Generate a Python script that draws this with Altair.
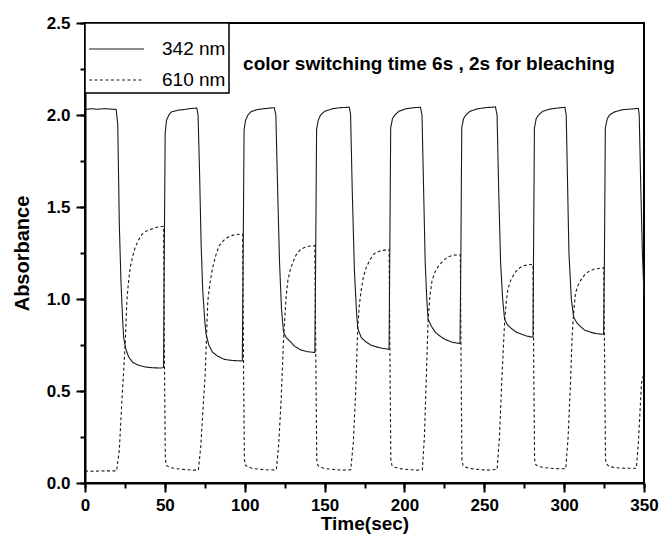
import altair as alt
import pandas as pd

# ---- data ----
series_names = ["342 nm", "610 nm"]

t342 = [0, 4, 8, 12, 16, 19.5,
        20.5, 21.5, 22.5, 23.5, 24.2, 25.5, 27.3, 30, 33.5, 38, 43, 47.9, 49.2,
        49.6, 50.2, 51, 52.5, 54, 58, 62.4, 66, 70,
        70.8, 71.7, 72.7, 73.7, 75, 75.8, 77.5, 79.9, 83, 87.2, 92, 98.5,
        99, 99.6, 100.5, 102, 104, 108, 113, 118.5,
        119.5, 120.6, 121.8, 123, 124.3, 126, 128.4, 131, 134.6, 139, 143.9,
        144.4, 145, 146, 147.5, 150, 155, 160, 165.5,
        166.3, 167.3, 168.7, 170, 170.8, 173, 176, 179, 182.2, 186, 190.4,
        190.8, 191.4, 192.5, 194, 196.5, 201, 206, 210,
        211, 212, 213, 214, 214.8, 217, 219.3, 222, 225.5, 230, 234.8,
        235.3, 235.9, 237, 238.5, 241, 246, 251, 257,
        258, 259, 260.2, 261.5, 262.7, 264.5, 266.9, 270, 273, 276, 279.6, 280.5,
        280.8, 281.4, 282.5, 284, 286.5, 291, 296, 300.5,
        301.3, 302.2, 303, 304.5, 306, 308, 310.2, 313, 316.4, 320, 324.7,
        325.2, 325.8, 327, 328.5, 331, 336, 341, 346.5,
        347, 348, 349, 350]
a342 = [2.030, 2.034, 2.031, 2.035, 2.032, 2.030,
        1.95, 1.40, 1.10, 0.90, 0.79, 0.73, 0.685, 0.655, 0.640, 0.630, 0.626, 0.625, 0.628,
        1.20, 1.90, 1.97, 2.000, 2.016, 2.026, 2.030, 2.035, 2.038,
        2.00, 1.70, 1.30, 1.05, 0.88, 0.81, 0.75, 0.71, 0.69, 0.672, 0.666, 0.663,
        1.20, 1.92, 1.97, 2.000, 2.018, 2.030, 2.035, 2.040,
        2.00, 1.60, 1.20, 0.95, 0.82, 0.79, 0.77, 0.745, 0.725, 0.714, 0.709,
        1.20, 1.92, 1.97, 2.000, 2.020, 2.034, 2.040, 2.042,
        2.00, 1.60, 1.15, 0.93, 0.84, 0.79, 0.766, 0.750, 0.740, 0.732, 0.727,
        1.20, 1.93, 1.98, 2.000, 2.020, 2.034, 2.040, 2.042,
        2.00, 1.60, 1.20, 1.00, 0.89, 0.85, 0.82, 0.80, 0.78, 0.765, 0.758,
        1.20, 1.93, 1.98, 2.000, 2.020, 2.034, 2.040, 2.044,
        2.00, 1.60, 1.20, 1.00, 0.89, 0.86, 0.84, 0.82, 0.81, 0.80, 0.793, 0.794,
        1.20, 1.93, 1.98, 2.000, 2.020, 2.032, 2.038, 2.042,
        2.00, 1.60, 1.25, 1.00, 0.90, 0.87, 0.85, 0.83, 0.82, 0.812, 0.808,
        1.20, 1.93, 1.98, 2.000, 2.015, 2.028, 2.032, 2.036,
        2.00, 1.60, 1.25, 1.02]

t610 = [0, 6, 12, 19.8,
        21.5, 23.1, 24.5, 25.2, 26.2, 27.2, 28.3, 29.8, 31.4, 33.5, 35.5, 38.5, 41.7, 45, 49.2,
        49.8, 50.3, 51, 53, 57, 62, 67, 71,
        72.5, 74, 75.2, 76.1, 76.9, 78.3, 79.9, 82, 84, 87, 90.3, 94, 98.7,
        99.3, 99.8, 100.5, 102.5, 106, 111, 116, 119.8,
        121.2, 122.8, 124.3, 125.9, 127, 128.4, 130.2, 132.2, 134.5, 137.4, 140, 143.9,
        144.6, 145.1, 145.8, 147.5, 151, 156, 161, 166.4,
        168, 169.5, 170.8, 171.8, 172.9, 174.3, 176, 178.5, 181.2, 185, 190.4,
        191, 191.5, 192.2, 194, 197.5, 202, 207, 211.2,
        212.5, 213.8, 214.8, 216, 217.3, 219.3, 221.4, 224.5, 227.6, 230.5, 235,
        235.5, 236, 236.7, 238.5, 242, 247, 252, 258,
        259.5, 261.2, 262.7, 263.7, 264.7, 266.5, 268.9, 271.5, 274.1, 277, 280.5,
        281, 281.5, 282.2, 284, 288, 293, 298, 301,
        302.5, 304, 305, 306, 307.1, 308.5, 310.2, 312.7, 315.4, 319, 324.8,
        325.4, 325.9, 326.5, 328, 332, 338, 345.2,
        346.5, 348.4, 350]
a610 = [0.065, 0.064, 0.066, 0.066,
        0.18, 0.45, 0.65, 0.76, 0.99, 1.09, 1.17, 1.23, 1.28, 1.32, 1.35, 1.37, 1.38, 1.39, 1.395,
        0.60, 0.13, 0.095, 0.085, 0.078, 0.073, 0.070, 0.070,
        0.20, 0.42, 0.58, 0.80, 0.99, 1.09, 1.17, 1.24, 1.29, 1.32, 1.34, 1.35, 1.353,
        0.60, 0.13, 0.095, 0.085, 0.078, 0.073, 0.070, 0.072,
        0.20, 0.45, 0.78, 1.01, 1.10, 1.156, 1.20, 1.24, 1.265, 1.28, 1.287, 1.29,
        0.60, 0.13, 0.095, 0.085, 0.078, 0.073, 0.070, 0.072,
        0.22, 0.50, 0.85, 0.97, 1.047, 1.12, 1.17, 1.215, 1.247, 1.262, 1.27,
        0.60, 0.13, 0.095, 0.085, 0.078, 0.073, 0.070, 0.072,
        0.25, 0.60, 0.88, 1.02, 1.10, 1.15, 1.18, 1.21, 1.23, 1.238, 1.24,
        0.60, 0.13, 0.095, 0.085, 0.078, 0.073, 0.070, 0.074,
        0.25, 0.60, 0.87, 0.98, 1.05, 1.10, 1.14, 1.165, 1.18, 1.185, 1.188,
        0.60, 0.13, 0.10, 0.09, 0.083, 0.079, 0.077, 0.078,
        0.25, 0.55, 0.80, 0.93, 1.03, 1.07, 1.10, 1.13, 1.15, 1.163, 1.17,
        0.60, 0.13, 0.105, 0.09, 0.083, 0.080, 0.080,
        0.22, 0.54, 0.60]

x_major = [0, 50, 100, 150, 200, 250, 300, 350]
x_minor = [25, 75, 125, 175, 225, 275, 325]
y_major = [0.0, 0.5, 1.0, 1.5, 2.0, 2.5]
y_minor = [0.25, 0.75, 1.25, 1.75, 2.25]

note_text = ["color switching time 6s , 2s for bleaching"]
note_x = [99]
note_y = [2.275]

# ---- tables ----
df = pd.concat([
    pd.DataFrame({"t": t342, "a": a342, "series": series_names[0]}),
    pd.DataFrame({"t": t610, "a": a610, "series": series_names[1]}),
], ignore_index=True)
df_note = pd.DataFrame({"x": note_x, "y": note_y, "label": note_text})

FONT = "Liberation Sans"
xs = alt.Scale(domain=[0, 350], nice=False, zero=False)
ys = alt.Scale(domain=[0, 2.5], nice=False)

x_is_major = "datum.value % 50 === 0"
y_is_major = "abs(round(datum.value * 2) - datum.value * 2) < 0.001"

# primary axes: every tick (short), labels only on the major ones
lines = alt.Chart(df).mark_line(strokeWidth=1.1, color="#1a1a1a").encode(
    x=alt.X("t:Q", scale=xs,
            axis=alt.Axis(values=sorted(x_major + x_minor), tickSize=5,
                          labelExpr=f"({x_is_major}) ? datum.label : ''",
                          labelOverlap=False, labelPadding=9, labelFlush=False,
                          title="Time(sec)", titlePadding=1, titleFontSize=19,
                          orient="bottom", format="d")),
    y=alt.Y("a:Q", scale=ys,
            axis=alt.Axis(values=sorted(y_major + y_minor), format=".1f", tickSize=5,
                          labelExpr=f"({y_is_major}) ? datum.label : ''",
                          labelOverlap=False, labelPadding=10, labelFlush=False,
                          title="Absorbance", titlePadding=14, orient="left")),
    strokeDash=alt.StrokeDash(
        "series:N",
        scale=alt.Scale(domain=series_names, range=[[1, 0], [3, 2.5]]),
        legend=alt.Legend(orient="top-left", offset=0, padding=3, strokeColor="black",
                          fillColor="white", symbolType="stroke", symbolSize=3025,
                          symbolStrokeWidth=1.1, symbolStrokeColor="#1a1a1a",
                          clipHeight=20, rowPadding=11, labelFont=FONT, labelFontSize=19,
                          labelOffset=17, labelColor="black",
                          title=" ", titleFontSize=9, titlePadding=4),
    ),
)

# secondary axes: longer ticks at the major values only
note = alt.Chart(df_note).mark_text(
    align="left", baseline="middle", font=FONT, fontSize=19, fontWeight="bold", color="black"
).encode(
    x=alt.X("x:Q", scale=xs,
            axis=alt.Axis(values=x_major, tickSize=9, labels=False, domain=False,
                          title=None, orient="bottom")),
    y=alt.Y("y:Q", scale=ys,
            axis=alt.Axis(values=y_major, tickSize=9, labels=False, domain=False,
                          title=None, orient="left")),
    text="label:N",
)

chart = alt.layer(lines, note).resolve_axis(
    x="independent", y="independent"
).properties(
    width=559, height=460,
    autosize=alt.AutoSizeParams(type="none"),
    padding={"left": 77, "top": 15, "right": 15, "bottom": 55},
).configure_view(
    stroke="black", strokeWidth=2
).configure_axis(
    grid=False, domainColor="black", domainWidth=2, tickColor="black", tickWidth=2,
    labelFont=FONT, labelFontSize=17, labelFontWeight="bold", labelColor="black",
    titleFont=FONT, titleFontSize=20, titleFontWeight="bold", titleColor="black",
).configure_legend(
    strokeWidth=1.5
)

chart.save("out.html", embed_options={"renderer": "svg", "actions": False})
